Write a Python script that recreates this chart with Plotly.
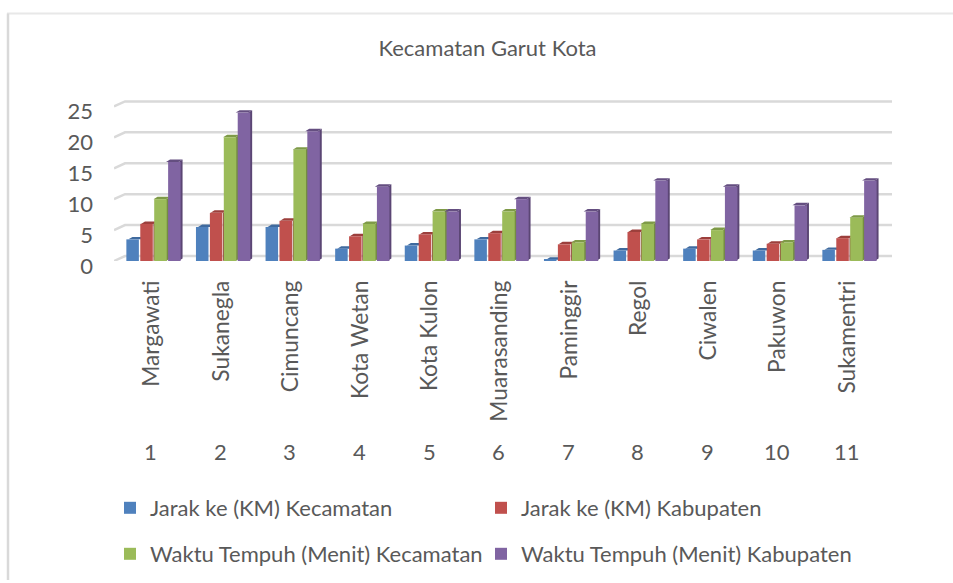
import plotly.graph_objects as go

title = "Kecamatan Garut Kota"
villages = ["Margawati", "Sukanegla", "Cimuncang", "Kota Wetan", "Kota Kulon", "Muarasanding",
            "Paminggir", "Regol", "Ciwalen", "Pakuwon", "Sukamentri"]
numbers = ["1", "2", "3", "4", "5", "6", "7", "8", "9", "10", "11"]
jarak_kec = [3.5, 5.5, 5.5, 2, 2.5, 3.5, 0.2, 1.7, 2, 1.7, 1.8]
jarak_kab = [6, 7.8, 6.5, 4, 4.3, 4.5, 2.7, 4.7, 3.5, 2.8, 3.7]
waktu_kec = [10, 20, 18, 6, 8, 8, 3, 6, 5, 3, 7]
waktu_kab = [16, 24, 21, 12, 8, 10, 8, 13, 12, 9, 13]
y_ticks = [0, 5, 10, 15, 20, 25]

series = [
    ("Jarak ke (KM) Kecamatan", jarak_kec, "#4F81BD", "#3A6291", "#3F6A9E", "legend"),
    ("Jarak ke (KM) Kabupaten", jarak_kab, "#C0504D", "#8F3A38", "#9C3F3C", "legend"),
    ("Waktu Tempuh (Menit) Kecamatan", waktu_kec, "#9BBB59", "#748C42", "#7E9A47", "legend2"),
    ("Waktu Tempuh (Menit) Kabupaten", waktu_kab, "#8064A2", "#5B4674", "#644E80", "legend2"),
]

W, H = 953, 583
L, R, T, B = 114, 892, 95, 262
PX_X, PX_Y = 69.6, 6.22
CENTER0 = 153.5
x_range = [(L - CENTER0) / PX_X, (R - CENTER0) / PX_X]
y_range = [0, (B - T) / PX_Y]
FONT = "Lato, Carlito, Calibri, sans-serif"
GREY = "#595959"
BAR_W = 0.18
n = len(villages)
positions = list(range(n))

fig = go.Figure()

gx, gy = [], []
wall_dx, wall_dy = 11 / PX_X, 5 / PX_Y
for t in y_ticks:
    gx += [x_range[0], x_range[0] + wall_dx, x_range[1], None]
    gy += [t, t + wall_dy, t + wall_dy, None]
fig.add_trace(go.Scatter(x=gx, y=gy, mode="lines", line=dict(color="#D9D9D9", width=2.5),
                         showlegend=False, hoverinfo="skip", cliponaxis=False))

dx, dy = 4 / PX_X, 2.5 / PX_Y
for k, (name, vals, col, side, top, leg) in enumerate(series):
    sx, sy, tx, ty = [], [], [], []
    for i, v in zip(positions, vals):
        left = i + (k - 2) * BAR_W
        right = left + BAR_W
        sx += [right, right + dx, right + dx, right, right, None]
        sy += [0, dy, v + dy, v, 0, None]
        tx += [left, left + dx, right + dx, right, left, None]
        ty += [v, v + dy, v + dy, v, v, None]
    fig.add_trace(go.Scatter(x=sx, y=sy, mode="lines", fill="toself", fillcolor=side, line=dict(width=0),
                             showlegend=False, hoverinfo="skip", cliponaxis=False))
    fig.add_trace(go.Scatter(x=tx, y=ty, mode="lines", fill="toself", fillcolor=top, line=dict(width=0),
                             showlegend=False, hoverinfo="skip", cliponaxis=False))

for name, vals, col, side, top, leg in series:
    fig.add_trace(go.Bar(x=positions, y=vals, name=name, marker=dict(color=col, line=dict(width=0)),
                         width=BAR_W, xaxis="x2", yaxis="y2", legend=leg))

for num, i in zip(numbers, positions):
    fig.add_annotation(x=i - 0.04, y=(B - 454) / (B - T), xref="x", yref="paper", text=num, showarrow=False,
                       xanchor="center", yanchor="middle", font=dict(family=FONT, size=22, color=GREY))

fig.add_shape(type="line", xref="paper", yref="paper", line=dict(color="#E8E8E8", width=2),
              x0=(7 - L) / (R - L), x1=(W - L) / (R - L), y0=(B - 13) / (B - T), y1=(B - 13) / (B - T))
fig.add_shape(type="line", xref="paper", yref="paper", line=dict(color="#D9D9D9", width=2.5),
              x0=(8 - L) / (R - L), x1=(8 - L) / (R - L), y0=(B - 13) / (B - T), y1=(B - H) / (B - T))

legend_common = dict(orientation="h", x=(110 - L) / (R - L), xanchor="left", yanchor="middle",
                     entrywidth=326, entrywidthmode="pixels", traceorder="normal",
                     font=dict(family=FONT, size=22, color=GREY), itemclick=False, itemdoubleclick=False)

fig.update_layout(
    width=W, height=H, autosize=False,
    margin=dict(l=L, r=W - R, t=T, b=H - B),
    paper_bgcolor="white", plot_bgcolor="white",
    barmode="group",
    title=dict(text=title, x=487.5 / W, xanchor="center", y=1 - 48 / H, yanchor="middle",
               font=dict(family=FONT, size=22, color=GREY)),
    font=dict(family=FONT, size=22, color=GREY),
    xaxis=dict(range=x_range, tickmode="array", tickvals=positions, ticktext=villages, tickangle=-90,
               showgrid=False, zeroline=False, showline=False, ticks="", ticklabelstandoff=14, ticklabelshift=-2,
               tickfont=dict(family=FONT, size=22.8, color=GREY)),
    yaxis=dict(range=y_range, tickmode="array", tickvals=y_ticks, showgrid=False, zeroline=False,
               showline=False, ticks="", ticklabelstandoff=20, ticklabelshift=5,
               tickfont=dict(family=FONT, size=22, color=GREY)),
    xaxis2=dict(range=x_range, overlaying="x", visible=False),
    yaxis2=dict(range=y_range, overlaying="y", visible=False),
    legend=dict(y=(B - 508) / (B - T), **legend_common),
    legend2=dict(y=(B - 554) / (B - T), **legend_common),
    showlegend=True,
)

fig.write_html("out.html", config={"displayModeBar": False}, post_script="document.body.style.margin='0';")
